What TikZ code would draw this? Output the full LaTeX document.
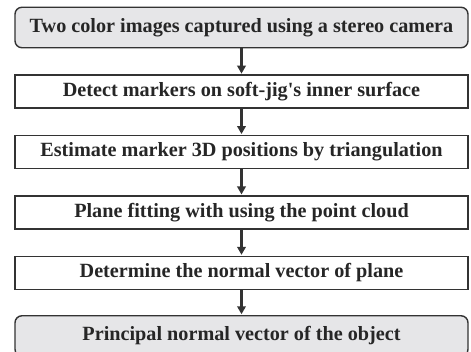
\documentclass[tikz,border=0pt]{standalone}
\usepackage{fontspec}
\setmainfont{Liberation Serif}
\usetikzlibrary{positioning,arrows.meta}
\usepackage{xcolor}

\definecolor{edge}{HTML}{333333}
\definecolor{endfill}{HTML}{E6E6E8}

\begin{document}
\begin{tikzpicture}[
    font=\fontsize{20.2}{22}\selectfont\bfseries,
    >={Triangle[length=8pt,width=8.5pt]},
    node distance=26pt,
    box/.style={draw=edge, line width=1.4pt, fill=white, text=black!85,
                minimum width=453pt, minimum height=33pt, inner sep=0pt, align=center},
    terminal/.style={box, fill=endfill, rounded corners=7pt, minimum height=40.5pt},
    arrow/.style={->, line width=2.6pt, draw=edge, shorten >=0.8pt}
]
\useasboundingbox (0,0) rectangle (471pt,-351pt);

% --- Steps ---
\node[terminal] (cap) at (241.5pt,-27.5pt) {Two color images captured using a stereo camera};
\node[box, below=of cap] (detect) {Detect markers on soft-jig\textquotesingle s inner surface};
\node[box, below=of detect] (tri) {Estimate marker 3D positions by triangulation};
\node[box, below=of tri] (fit) {Plane fitting with using the point cloud};
\node[box, below=of fit] (normal) {Determine the normal vector of plane};
\node[terminal, below=25pt of normal] (result) {Principal normal vector of the object};

\draw[arrow] (cap) -- (detect);
\draw[arrow] (detect) -- (tri);
\draw[arrow] (tri) -- (fit);
\draw[arrow] (fit) -- (normal);
\draw[arrow] (normal) -- (result);

\end{tikzpicture}
\end{document}
